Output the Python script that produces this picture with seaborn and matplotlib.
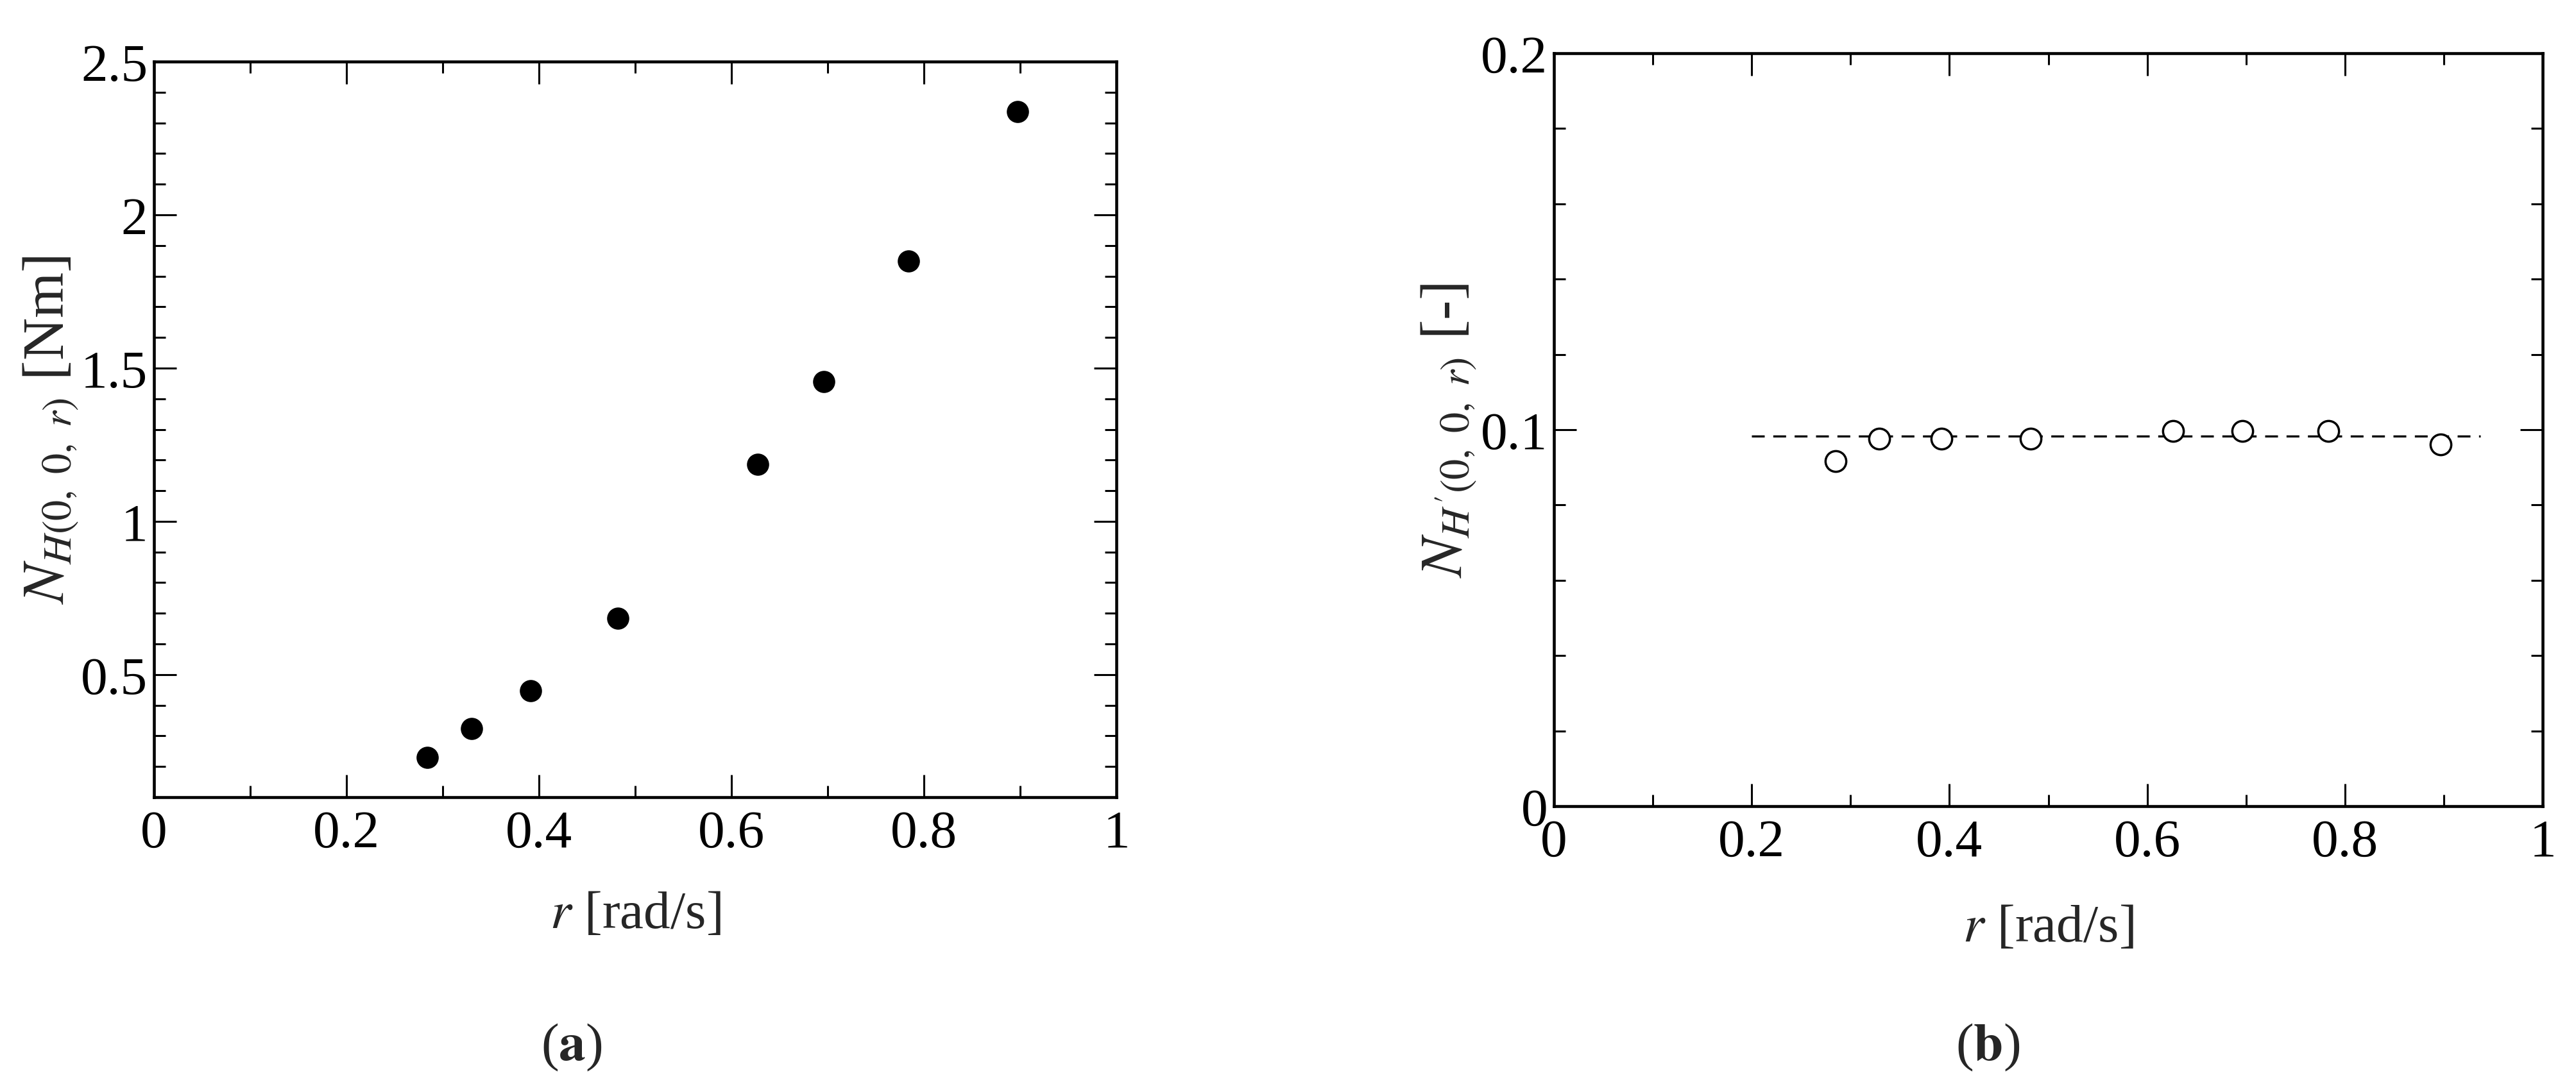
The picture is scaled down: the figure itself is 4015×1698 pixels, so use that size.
import matplotlib
matplotlib.use('Agg')
import matplotlib.pyplot as plt
import seaborn as sns
from matplotlib.ticker import MultipleLocator, FixedLocator

# data
r_a = [0.284, 0.330, 0.391, 0.482, 0.627, 0.696, 0.784, 0.897]
nh_a = [0.229, 0.323, 0.447, 0.683, 1.187, 1.456, 1.849, 2.336]

r_b = [0.285, 0.329, 0.392, 0.482, 0.626, 0.696, 0.783, 0.897]
nh_b = [0.0917, 0.0976, 0.0976, 0.0976, 0.0997, 0.0997, 0.0997, 0.0961]

fit_r = [0.2, 0.937]
fit_nh = [0.0983, 0.0983]

x_ticks = [0, 0.2, 0.4, 0.6, 0.8, 1]
x_ticklabels = ['0', '0.2', '0.4', '0.6', '0.8', '1']
ya_ticks = [0.5, 1, 1.5, 2, 2.5]
ya_ticklabels = ['0.5', '1', '1.5', '2', '2.5']
yb_ticks = [0, 0.1, 0.2]
yb_ticklabels = ['0', '0.1', '0.2']

sns.set_style('ticks')
plt.rcParams['font.family'] = ['Liberation Serif', 'DejaVu Serif']
plt.rcParams['mathtext.fontset'] = 'stix'

FS = 60

fig = plt.figure(figsize=(40.15, 16.99), dpi=100)
ax1 = fig.add_axes([0.05978, 0.26780, 0.37360, 0.67510])
ax2 = fig.add_axes([0.60324, 0.25957, 0.38381, 0.69100])

sns.scatterplot(x=r_a, y=nh_a, ax=ax1, color='black', s=620, linewidth=0, marker='o')

sns.lineplot(x=fit_r, y=fit_nh, ax=ax2, color='black', linewidth=2.4, dashes=False)
ax2.lines[0].set_dashes((6, 4))
sns.scatterplot(x=r_b, y=nh_b, ax=ax2, facecolor='white', edgecolor='black', s=540,
                linewidth=2.5, marker='o', zorder=3)

ax1.set_xlim(0, 1)
ax1.set_ylim(0.1, 2.5)
ax1.yaxis.set_major_locator(FixedLocator(ya_ticks))
ax1.set_yticklabels(ya_ticklabels)
ax1.yaxis.set_minor_locator(MultipleLocator(0.1))

ax2.set_xlim(0, 1)
ax2.set_ylim(0, 0.2)
ax2.yaxis.set_major_locator(FixedLocator(yb_ticks))
ax2.set_yticklabels(yb_ticklabels)
ax2.yaxis.set_minor_locator(MultipleLocator(0.02))

for ax in (ax1, ax2):
    ax.xaxis.set_major_locator(FixedLocator(x_ticks))
    ax.set_xticklabels(x_ticklabels)
    ax.xaxis.set_minor_locator(MultipleLocator(0.1))
    ax.tick_params(which='both', direction='in', top=True, right=True,
                   colors='black', labelsize=FS)
    ax.tick_params(which='major', length=25, width=2.2)
    ax.tick_params(which='minor', length=13, width=2.2)
    ax.tick_params(axis='x', which='major', pad=14)
    ax.tick_params(axis='y', which='major', pad=7)
    for sp in ax.spines.values():
        sp.set_linewidth(3.3)
        sp.set_color('black')
    ax.set_xlabel(r'$r$ [rad/s]', fontsize=FS)
    ax.xaxis.label.set_va('center')

ax1.xaxis.set_label_coords(0.5, -0.160)
ax2.xaxis.set_label_coords(0.5, -0.162)

ax1.set_ylabel(r'$N_{H(0,\ 0,\ r)}$ [Nm]', fontsize=66)
ax2.set_ylabel(r"$N_{H'(0,\ 0,\ r)}$ [-]", fontsize=66)
for ax in (ax1, ax2):
    ax.yaxis.label.set_va('center')
ax1.yaxis.set_label_coords(-0.107, 0.5)
ax2.yaxis.set_label_coords(-0.106, 0.5)

fig.text(0.2219, 0.0388, r'($\mathbf{a}$)', fontsize=FS, ha='center', va='center')
fig.text(0.7716, 0.0388, r'($\mathbf{b}$)', fontsize=FS, ha='center', va='center')

fig.savefig('out.png', dpi=100, facecolor='white')
